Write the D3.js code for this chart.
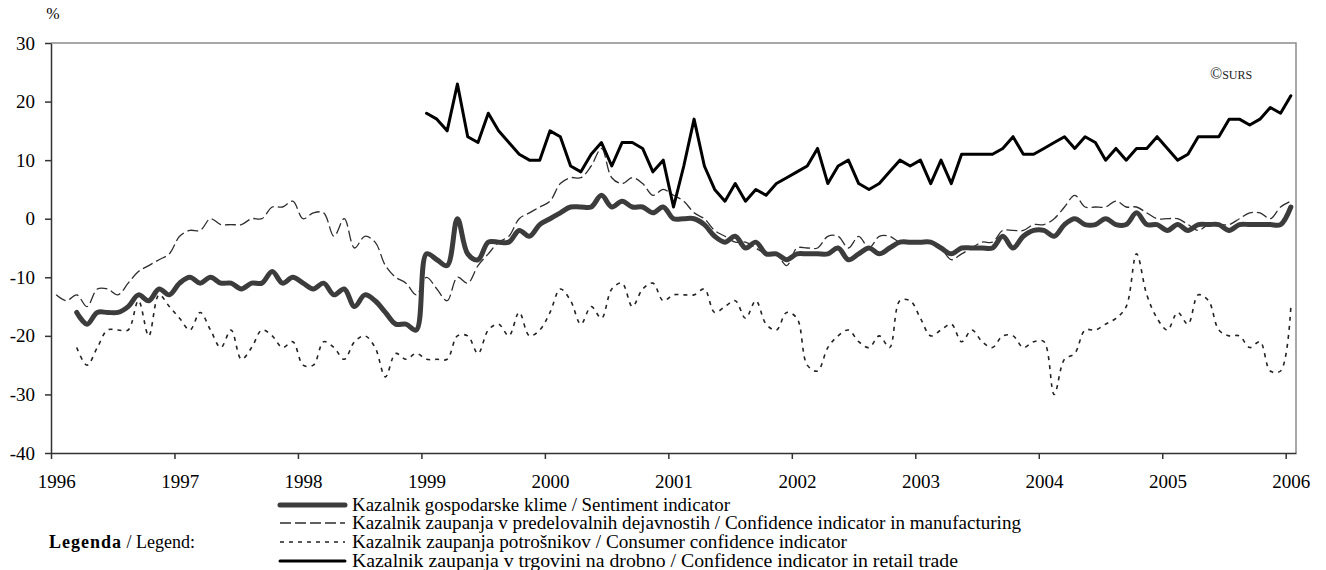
<!DOCTYPE html>
<html>
<head>
<meta charset="utf-8">
<script src="https://cdn.jsdelivr.net/npm/d3@7"></script>
<style>
    body { margin: 0; background: #fff; }
    svg, svg text { font-family: "Liberation Serif", "Times New Roman", serif; }
    .axis path, .axis line { stroke: #333; stroke-width: 1.5; }
    .axis text { font-size: 19px; fill: #000; }
</style>
</head>
<body>
<div id="graph"></div>
<script>
// monthly data, Jan 1996 .. Jan 2006 (121 months), null = no data
var years = [1996, 1997, 1998, 1999, 2000, 2001, 2002, 2003, 2004, 2005, 2006];
var yTicks = [-40, -30, -20, -10, 0, 10, 20, 30];

var sentiment = [null, null, -16, -18, -16, -16, -16, -15, -13, -14, -12, -13,
    -11, -10, -11, -10, -11, -11, -12, -11, -11, -9, -11, -10,
    -11, -12, -11, -13, -12, -15, -13, -14, -16, -18, -18, -19,
    -6, -7, -8, 0, -6, -7, -4, -4, -4, -2, -3, -1,
    0, 1, 2, 2, 2, 4, 2, 3, 2, 2, 1, 2,
    0, 0, 0, -1, -3, -4, -3, -5, -4, -6, -6, -7,
    -6, -6, -6, -6, -5, -7, -6, -5, -6, -5, -4, -4,
    -4, -4, -5, -6, -5, -5, -5, -5, -3, -5, -3, -2,
    -2, -3, -1, 0, -1, -1, 0, -1, -1, 1, -1, -1,
    -2, -1, -2, -1, -1, -1, -2, -1, -1, -1, -1, -1,
    2];

var manufacturing = [-13, -14, -13, -15, -12, -12, -13, -11, -9, -8, -7, -6,
    -3, -2, -2, 0, -1, -1, -1, 0, 0, 2, 2, 3,
    0, 1, 1, -3, 0, -5, -3, -4, -8, -10, -11, -13,
    -10, -12, -14, -10, -11, -8, -6, -4, -3, 0, 1, 2,
    3, 6, 7, 7, 9, 12, 7, 6, 7, 6, 4, 5,
    4, 3, 1, 0, -2, -3, -4, -4, -5, -6, -6, -8,
    -5, -5, -5, -3, -3, -5, -3, -5, -3, -3, -4, -4,
    -4, -4, -5, -7, -6, -5, -4, -4, -2, -2, -2, -1,
    -1, 0, 2, 4, 2, 2, 2, 3, 2, 2, 1, 0,
    0, 0, -1, -2, -1, -1, -1, 0, 1, 1, 0, 2,
    3];

var consumer = [null, null, -22, -25, -22, -19, -19, -19, -14, -20, -13, -15,
    -17, -19, -16, -19, -22, -19, -24, -22, -19, -20, -22, -21,
    -25, -25, -21, -22, -24, -21, -20, -22, -27, -23, -24, -23,
    -24, -24, -24, -20, -20, -23, -19, -18, -20, -16, -20, -19,
    -16, -12, -14, -18, -15, -17, -12, -11, -15, -12, -11, -14,
    -13, -13, -13, -12, -16, -15, -14, -17, -14, -18, -19, -16,
    -17, -25, -26, -22, -20, -19, -21, -22, -20, -22, -14, -14,
    -17, -20, -19, -18, -21, -19, -21, -22, -20, -20, -22, -21,
    -21, -30, -24, -23, -19, -19, -18, -17, -15, -6, -13, -17,
    -19, -16, -18, -13, -14, -19, -20, -20, -22, -21, -26, -26,
    -15];

var retail = [null, null, null, null, null, null, null, null, null, null, null, null,
    null, null, null, null, null, null, null, null, null, null, null, null,
    null, null, null, null, null, null, null, null, null, null, null, null,
    18, 17, 15, 23, 14, 13, 18, 15, 13, 11, 10, 10,
    15, 14, 9, 8, 11, 13, 9, 13, 13, 12, 8, 10,
    2, 9, 17, 9, 5, 3, 6, 3, 5, 4, 6, 7,
    8, 9, 12, 6, 9, 10, 6, 5, 6, 8, 10, 9,
    10, 6, 10, 6, 11, 11, 11, 11, 12, 14, 11, 11,
    12, 13, 14, 12, 14, 13, 10, 12, 10, 12, 12, 14,
    12, 10, 11, 14, 14, 14, 17, 17, 16, 17, 19, 18,
    21];

var legendLabels = [
    "Kazalnik gospodarske klime / Sentiment indicator",
    "Kazalnik zaupanja v predelovalnih dejavnostih / Confidence indicator in manufacturing",
    "Kazalnik zaupanja potrošnikov / Consumer confidence indicator",
    "Kazalnik zaupanja v trgovini na drobno / Confidence indicator in retail trade"
];

var width = 1326, height = 570;
var nMonths = sentiment.length;
var serif = '"Liberation Serif", "Times New Roman", serif';

var svg = d3.select("#graph")
    .append("svg")
    .attr("width", width)
    .attr("height", height);

// category axis: one slot per month, points at slot centres
var xScale = d3.scaleLinear().domain([0, nMonths]).range([51, 1296]);
var yScale = d3.scaleLinear().domain([-40, 30]).range([453, 43]);

// plot area frame (top + right, grey)
svg.append("path")
    .attr("d", "M" + xScale(0) + "," + yScale(30) + "H" + xScale(nMonths) + "V" + yScale(-40))
    .attr("fill", "none")
    .attr("stroke", "#8c8c8c")
    .attr("stroke-width", 1.5);

var yAxis = d3.axisLeft(yScale)
    .tickValues(yTicks)
    .tickFormat(function (d) { return String(d); })   // plain hyphen, not U+2212
    .tickSize(6)
    .tickPadding(10)
    .tickSizeOuter(0);

var yAxisPlot = svg.append("g")
    .attr("class", "axis axis--y")
    .attr("transform", "translate(" + xScale(0) + ",0)")
    .call(yAxis);

var xAxis = d3.axisBottom(xScale)
    .tickValues(years.map(function (y, i) { return i * 12; }))
    .tickFormat(function (d, i) { return years[i]; })
    .tickSize(6)
    .tickPadding(16)
    .tickSizeOuter(0);

var xAxisPlot = svg.append("g")
    .attr("class", "axis axis--x")
    .attr("transform", "translate(0," + yScale(-40) + ")")
    .call(xAxis);

// d3 puts sans-serif on the axis groups, switch back to the serif face
svg.selectAll(".axis")
    .attr("font-family", null)
    .attr("font-size", null);
svg.selectAll(".axis text").style("font-family", serif);

// labels sit in the middle of the January slot
xAxisPlot.selectAll("text")
    .attr("x", xScale(0.5) - xScale(0));

var smooth = d3.line()
    .defined(function (d) { return d != null; })
    .x(function (d, i) { return xScale(i + 0.5); })
    .y(function (d) { return yScale(d); })
    .curve(d3.curveCatmullRom.alpha(0.5));

var straight = d3.line()
    .defined(function (d) { return d != null; })
    .x(function (d, i) { return xScale(i + 0.5); })
    .y(function (d) { return yScale(d); });

var styles = [
    { stroke: "#3c3c3c", width: 5, dash: null },
    { stroke: "#2e2e2e", width: 1.3, dash: "11,4" },
    { stroke: "#222", width: 1.6, dash: "4,5" },
    { stroke: "#000", width: 3, dash: null }
];

var series = [
    { data: consumer, style: styles[2], line: smooth },
    { data: manufacturing, style: styles[1], line: smooth },
    { data: sentiment, style: styles[0], line: smooth },
    { data: retail, style: styles[3], line: straight }
];

series.forEach(function (s) {
    svg.append("path")
        .attr("d", s.line(s.data))
        .attr("fill", "none")
        .attr("stroke", s.style.stroke)
        .attr("stroke-width", s.style.width)
        .attr("stroke-dasharray", s.style.dash)
        .attr("stroke-linejoin", "round")
        .attr("stroke-linecap", s.style.dash ? "butt" : "round");
});

// unit and source
svg.append("text")
    .attr("x", 53)
    .attr("y", 19)
    .attr("text-anchor", "middle")
    .style("font-size", "16px")
    .text("%");

var src = svg.append("text")
    .attr("x", 1210)
    .attr("y", 79)
    .style("font-size", "16px")
    .attr("fill", "#222");
src.append("tspan").text("©");
src.append("tspan").style("font-size", "12px").text("SURS");

// legend
var legendRows = [505, 523, 542, 561];
var legendEnds = [730, 1021, 847, 958];

var legend = svg.append("g").attr("class", "legend");

legendLabels.forEach(function (label, i) {
    var st = styles[i];
    legend.append("line")
        .attr("x1", 280).attr("x2", 345)
        .attr("y1", legendRows[i]).attr("y2", legendRows[i])
        .attr("stroke", st.stroke)
        .attr("stroke-width", st.width)
        .attr("stroke-dasharray", st.dash)
        .attr("stroke-linecap", st.dash ? "butt" : "round");
    legend.append("text")
        .attr("x", 352)
        .attr("y", legendRows[i] + 6)
        .attr("textLength", legendEnds[i] - 352)
        .attr("lengthAdjust", "spacingAndGlyphs")
        .style("font-size", "18px")
        .text(label);
});

var legTitle = legend.append("text")
    .attr("x", 49)
    .attr("y", legendRows[2] + 6)
    .style("font-size", "18px");
legTitle.append("tspan").style("font-weight", "bold").style("letter-spacing", "1px").text("Legenda");
legTitle.append("tspan").text(" / Legend:");
</script>
</body>
</html>
